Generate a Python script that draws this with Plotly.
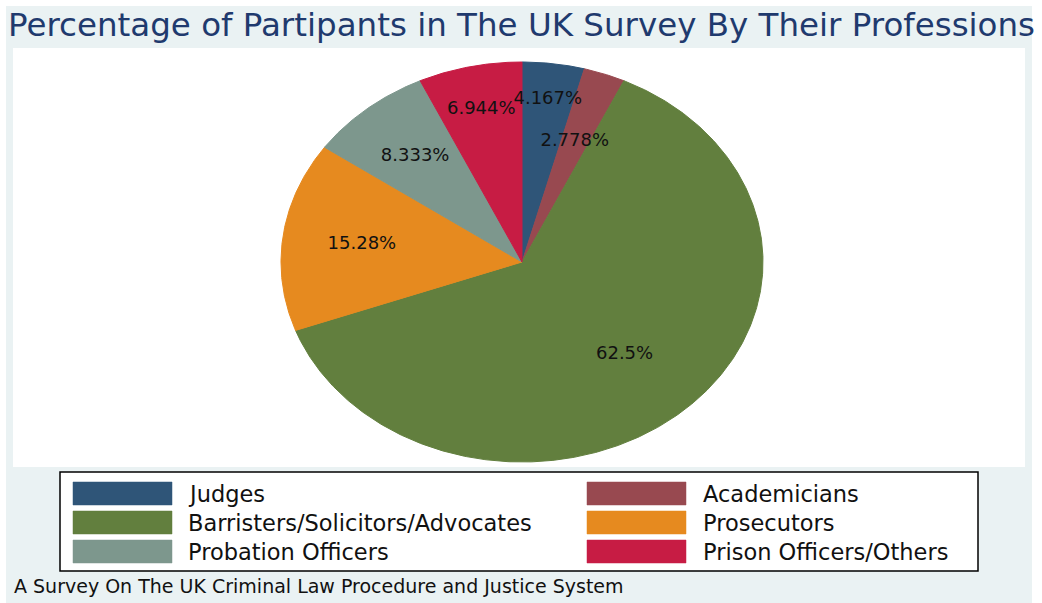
import numpy as np
import plotly.graph_objects as go

# Survey breakdown by profession
professions = [
    "Judges",
    "Academicians",
    "Barristers/Solicitors/Advocates",
    "Prosecutors",
    "Probation Officers",
    "Prison Officers/Others",
]
percentages = [4.167, 2.778, 62.5, 15.28, 8.333, 6.944]
colors = ["#2f5578", "#984950", "#627f3e", "#e68a1f", "#7d978d", "#c71c44"]

title_text = "Percentage of Partipants in The UK Survey By Their Professions"
caption_text = "A Survey On The UK Criminal Law Procedure and Justice System"

W, H = 1042, 603
CX, CY = 522, 262      # pie centre (px)
RX, RY = 241, 200      # pie radii (px); the chart is stretched horizontally
# distance of each slice label from the centre, as a fraction of the radius
label_radius = [0.82, 0.64, 0.63, 0.67, 0.69, 0.78]
FONT = "DejaVu Sans"


def px(x):
    return x / W


def py(y):
    return 1 - y / H


fig = go.Figure()

# pie wedges, clockwise from 12 o'clock
total = sum(percentages)
start = 0.0
lx, ly, ltext = [], [], []
for name, val, col, lr in zip(professions, percentages, colors, label_radius):
    a0 = 90 - start / total * 360
    a1 = 90 - (start + val) / total * 360
    n = max(int(abs(a1 - a0) * 2), 2)
    t = np.radians(np.linspace(a0, a1, n + 1))
    xs = np.concatenate([[0], np.cos(t), [0]])
    ys = np.concatenate([[0], np.sin(t), [0]])
    fig.add_trace(go.Scatter(
        x=xs, y=ys, fill="toself", fillcolor=col, mode="lines",
        line=dict(color=col, width=1), name=name, showlegend=False,
        hoverinfo="name",
    ))
    mid = np.radians((a0 + a1) / 2)
    lx.append(lr * np.cos(mid))
    ly.append(lr * np.sin(mid))
    ltext.append(f"{val:.4g}%")
    start += val

fig.add_trace(go.Scatter(
    x=lx, y=ly, mode="text", text=ltext, textposition="middle center",
    textfont=dict(family=FONT, size=18, color="#111111"),
    showlegend=False, hoverinfo="skip",
))

shapes = [
    # outer graph region
    dict(type="rect", xref="paper", yref="paper", x0=px(6), x1=px(1032),
         y0=py(603), y1=py(6), fillcolor="#eaf2f3", line=dict(width=0),
         layer="below"),
    # plot region
    dict(type="rect", xref="paper", yref="paper", x0=px(13), x1=px(1025),
         y0=py(467), y1=py(48), fillcolor="white", line=dict(width=0),
         layer="below"),
    # legend box
    dict(type="rect", xref="paper", yref="paper", x0=px(60), x1=px(978),
         y0=py(571), y1=py(472), fillcolor="white",
         line=dict(color="black", width=1.5)),
]

annotations = []
col_sw_x = [73, 587]
col_tx_x = [186, 701]
row_top = [482, 511, 540]
SW_W, SW_H = 99, 23
for i, (name, col) in enumerate(zip(professions, colors)):
    r, c = divmod(i, 2)
    x0 = col_sw_x[c]
    y0 = row_top[r]
    shapes.append(dict(
        type="rect", xref="paper", yref="paper",
        x0=px(x0), x1=px(x0 + SW_W), y0=py(y0 + SW_H), y1=py(y0),
        fillcolor=col, line=dict(color=col, width=0.5),
    ))
    annotations.append(dict(
        text=name, xref="paper", yref="paper", x=px(col_tx_x[c]),
        y=py(y0 + SW_H / 2), xanchor="left", yanchor="middle",
        showarrow=False, font=dict(family=FONT, size=22.5, color="#111111"),
    ))

# title and caption
annotations.append(dict(
    text=title_text, xref="paper", yref="paper", x=px(521), y=py(25),
    xanchor="center", yanchor="middle", showarrow=False,
    font=dict(family=FONT, size=32.5, color="#1f3a6e"),
))
annotations.append(dict(
    text=caption_text, xref="paper", yref="paper", x=px(12), y=py(586),
    xanchor="left", yanchor="middle", showarrow=False,
    font=dict(family=FONT, size=19, color="#111111"),
))

fig.update_layout(
    width=W, height=H,
    margin=dict(l=0, r=0, t=0, b=0),
    paper_bgcolor="white",
    plot_bgcolor="rgba(0,0,0,0)",
    xaxis=dict(range=[-CX / RX, (W - CX) / RX], domain=[0, 1],
               visible=False, fixedrange=True),
    yaxis=dict(range=[-(H - CY) / RY, CY / RY], domain=[0, 1],
               visible=False, fixedrange=True),
    shapes=shapes,
    annotations=annotations,
    showlegend=False,
)

fig.write_html("out.html")
